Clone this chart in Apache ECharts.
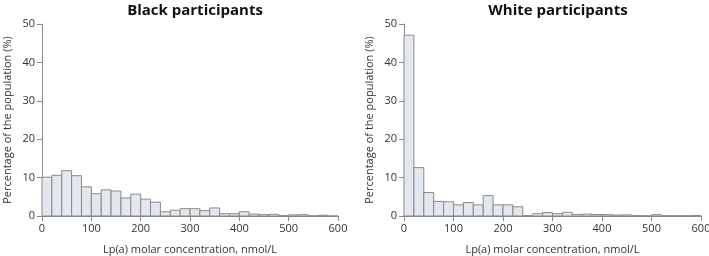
<!DOCTYPE html>
<html><head><meta charset="utf-8">
<script src="https://cdn.jsdelivr.net/npm/echarts@6/dist/echarts.min.js"></script>
<style>html,body{margin:0;padding:0;background:#fff}#c{width:709px;height:256px}</style>
</head><body><div id="c"></div>
<script>
const binEdges = [0,20,40,60,80,100,120,140,160,180,200,220,240,260,280,300,320,340,360,380,400,420,440,460,480,500,520,540,560,580,600];
const blackValues = [10.1,10.6,11.8,10.5,7.6,5.8,6.8,6.5,4.7,5.7,4.4,3.6,1.1,1.5,1.9,1.9,1.4,2.1,0.6,0.6,1.1,0.5,0.35,0.45,0.1,0.3,0.35,0.05,0.2,0];
const whiteValues = [47.1,12.6,6.1,3.8,3.7,2.9,3.5,2.9,5.3,2.9,2.9,2.4,0.1,0.6,0.9,0.6,0.95,0.4,0.5,0.4,0.35,0.25,0.3,0.1,0.05,0.35,0.1,0.05,0.05,0.15];
const titles = ['Black participants','White participants'];
const xName = 'Lp(a) molar concentration, nmol/L';
const yName = 'Percentage of the population (%)';

const font = '"Open Sans", "Noto Sans", sans-serif';
const axisColor = '#8c8c8c';
function toData(vals){ return vals.map((v,i)=>[binEdges[i], binEdges[i+1], v]); }
function renderItem(params, api){
  const p0 = api.coord([api.value(0), api.value(2)]);
  const p1 = api.coord([api.value(1), 0]);
  return {type:'rect', shape:{x:p0[0], y:p0[1], width:p1[0]-p0[0], height:p1[1]-p0[1]},
    style:{fill:'#e3e7ee', stroke:'#8a8a8a', lineWidth:1}};
}
const grids = [
  {left:42, right:371, top:24, bottom:40, outerBoundsMode:'none', containLabel:false},
  {left:404, right:8, top:24, bottom:40, outerBoundsMode:'none', containLabel:false}
];
const xAxes = grids.map((g,i)=>({type:'value', gridIndex:i, min:0, max:600, interval:100,
  name:xName, nameLocation:'middle', nameGap:28,
  nameTextStyle:{fontFamily:font, fontSize:11, color:'#333'},
  axisLine:{lineStyle:{color:axisColor}}, axisTick:{lineStyle:{color:axisColor}, length:5},
  axisLabel:{fontFamily:font, fontSize:11, color:'#333', margin:7}, splitLine:{show:false}}));
const yAxes = grids.map((g,i)=>({type:'value', gridIndex:i, min:0, max:50, interval:10,
  name:yName, nameLocation:'middle', nameGap:29,
  nameTextStyle:{fontFamily:font, fontSize:11, color:'#333'},
  axisLine:{show:true, lineStyle:{color:axisColor}}, axisTick:{show:true, lineStyle:{color:axisColor}, length:5},
  axisLabel:{fontFamily:font, fontSize:11, color:'#333', margin:7}, splitLine:{show:false}}));
const option = {
  animation:false,
  title: [
    {text:titles[0], left:190, top:-2, textAlign:'center', textStyle:{fontFamily:font, fontSize:15, fontWeight:'bold', color:'#111'}},
    {text:titles[1], left:553, top:-2, textAlign:'center', textStyle:{fontFamily:font, fontSize:15, fontWeight:'bold', color:'#111'}}
  ],
  grid: grids, xAxis: xAxes, yAxis: yAxes,
  series: [
    {type:'custom', xAxisIndex:0, yAxisIndex:0, renderItem, data:toData(blackValues), encode:{x:[0,1], y:2}},
    {type:'custom', xAxisIndex:1, yAxisIndex:1, renderItem, data:toData(whiteValues), encode:{x:[0,1], y:2}}
  ]
};
echarts.init(document.getElementById('c')).setOption(option);
</script></body></html>
